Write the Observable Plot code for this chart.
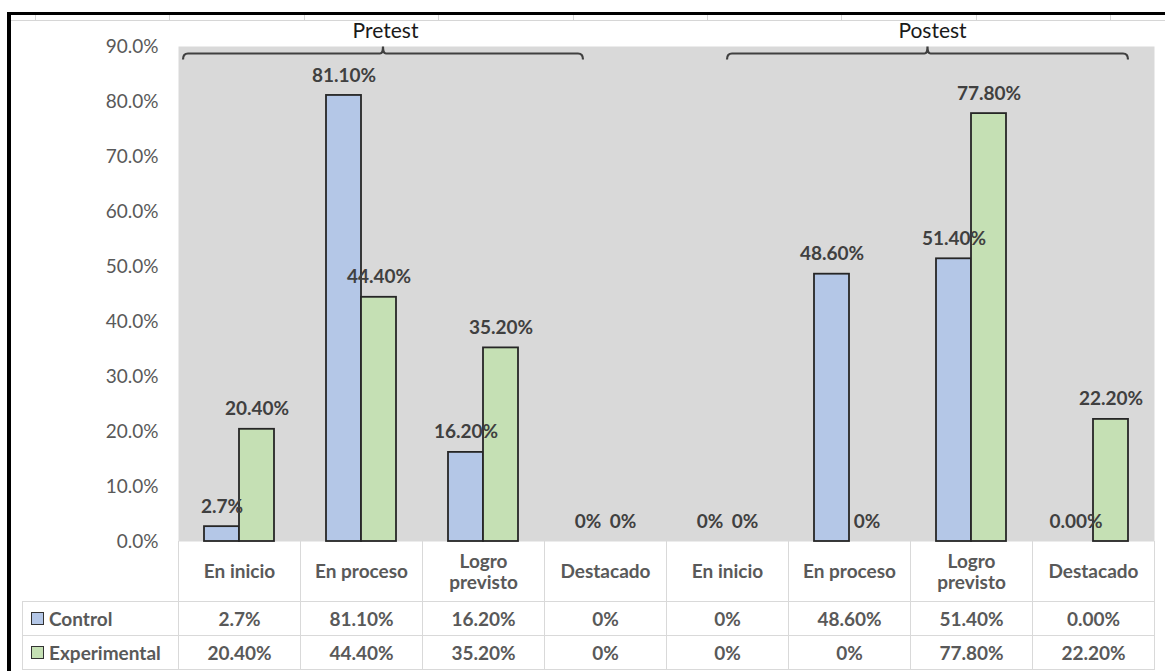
<!DOCTYPE html>
<html><head><meta charset="utf-8">
<script src="https://cdn.jsdelivr.net/npm/d3@7"></script>
<script src="https://cdn.jsdelivr.net/npm/@observablehq/plot@0.6"></script>
<style>
html,body{margin:0;padding:0;background:#fff;}
#wrap{position:relative;width:1165px;height:671px;overflow:hidden;font-family:Lato,"Open Sans",sans-serif;}
#frame{position:absolute;left:7px;top:12px;width:1200px;height:700px;border-left:4px solid #000;border-top:3px solid #000;box-sizing:border-box;}
#sheet{position:absolute;left:11px;top:15px;right:0;height:5px;border-bottom:1px solid #d6d6d6;
 background:repeating-linear-gradient(to right,transparent 0 24px,#d6d6d6 24px 25px,transparent 25px 134.4px);}
.cell{position:absolute;box-sizing:border-box;border:1px solid #d9d9d9;display:flex;align-items:center;justify-content:center;
 font-weight:bold;font-size:19px;color:#595959;background:#fff;}
.cell.head{border-top:none;}
.cell.name{justify-content:flex-start;padding-left:8px;}
.key{display:inline-block;width:11px;height:11px;border:1.5px solid #333;margin-right:5px;}
#chart{position:absolute;left:0;top:0;}
</style></head>
<body><div id="wrap"><div id="frame"></div><div id="sheet"></div></div>
<script>
const groups = ["Pretest", "Postest"];
const categories = ["En inicio", "En proceso", "Logro previsto", "Destacado"];
const seriesNames = ["Control", "Experimental"];
const controlValues = [2.7, 81.1, 16.2, 0, 0, 48.6, 51.4, 0];
const experimentalValues = [20.4, 44.4, 35.2, 0, 0, 0, 77.8, 22.2];
const controlLabels = ["2.7%", "81.10%", "16.20%", "0%", "0%", "48.60%", "51.40%", "0.00%"];
const experimentalLabels = ["20.40%", "44.40%", "35.20%", "0%", "0%", "0%", "77.80%", "22.20%"];
const yTicks = [0, 10, 20, 30, 40, 50, 60, 70, 80, 90];
const seriesColors = ["#b4c7e7", "#c5e0b4"];

const toRows = (values, labels, s) => values.map((v, i) => ({
  group: groups[Math.floor(i / categories.length)],
  category: categories[i % categories.length],
  series: s, value: v, label: labels[i]
}));
const control = toRows(controlValues, controlLabels, seriesNames[0]);
const experimental = toRows(experimentalValues, experimentalLabels, seriesNames[1]);

function bracketRender(index, scales, values, dimensions, context, next) {
  const g = next(index, scales, values, dimensions, context);
  const line = g && g.querySelector("line");
  if (!line) return g;
  const x1 = +line.getAttribute("x1"), x2 = +line.getAttribute("x2"), y = +line.getAttribute("y1");
  const xc = (x1 + x2) / 2;
  const p = document.createElementNS("http://www.w3.org/2000/svg", "path");
  p.setAttribute("d", `M${x1},${y + 6}Q${x1},${y} ${x1 + 5},${y}L${xc - 3},${y}Q${xc},${y} ${xc},${y - 7}Q${xc},${y} ${xc + 3},${y}L${x2 - 5},${y}Q${x2},${y} ${x2},${y + 6}`);
  p.setAttribute("fill", "none");
  line.replaceWith(p);
  return g;
}
const bracket = (group, insetLeft, insetRight, dx) => [
  Plot.ruleY([yTicks[yTicks.length - 1]], {fx: [group], insetLeft, insetRight, dy: 7, stroke: "#404040", strokeWidth: 2.2, render: bracketRender}),
  Plot.text([group], {fx: d => d, text: d => d, frameAnchor: "top", dx, dy: -15, lineAnchor: "middle", fontSize: 21, fill: "#1a1a1a"})
];

const labelOpts = {fx: "group", x: "category", y: "value", text: "label", dy: -20, lineAnchor: "middle", fontWeight: "bold", fontSize: 19, fill: "#404040"};

const chart = Plot.plot({
  width: 1165, height: 600,
  marginLeft: 178, marginRight: 11, marginTop: 46, marginBottom: 59,
  style: {fontFamily: "Lato, 'Open Sans', sans-serif", fontSize: "19px", background: "transparent", overflow: "visible"},
  fx: {domain: groups, padding: 0, axis: null, label: null},
  x: {domain: categories, padding: 0, axis: null, label: null},
  y: {domain: [0, 90], axis: null, label: null},
  marks: [
    Plot.frame({fill: "#d9d9d9", stroke: "none", facet: "super"}),
    Plot.axisY(yTicks, {label: null, tickSize: 0, tickPadding: 20, tickFormat: d => d.toFixed(1) + "%", fill: "#595959", fontSize: 19}),
    Plot.axisX({label: null, tickSize: 0, tickPadding: 30, lineAnchor: "middle", lineHeight: 1.1, fontWeight: "bold", fill: "#595959", fontSize: 19,
      tickFormat: d => d.replace(" previsto", "\nprevisto")}),
    Plot.barY(control, {filter: d => d.value > 0, fx: "group", x: "category", y: "value", fill: seriesColors[0], stroke: "#262626", strokeWidth: 1.8, insetLeft: 26, insetRight: 61}),
    Plot.barY(experimental, {filter: d => d.value > 0, fx: "group", x: "category", y: "value", fill: seriesColors[1], stroke: "#262626", strokeWidth: 1.8, insetLeft: 61, insetRight: 26}),
    Plot.text(control, {...labelOpts, dx: -17.5}),
    Plot.text(experimental, {...labelOpts, dx: 17.5}),
    ...bracket(groups[0], 5, 83, -37),
    ...bracket(groups[1], 61, 26, 22)
  ]
});
chart.id = "chart";

// data table under the chart
const wrap = document.getElementById("wrap");
const left0 = 22, colW = 122, colStart = 178;
const headTop = 541, headH = 60, rowH = 34;
const addCell = (cls, x, y, w, h, html) => {
  const d = document.createElement("div");
  d.className = "cell " + cls;
  Object.assign(d.style, {left: x + "px", top: y + "px", width: (w + 1) + "px", height: (h + 1) + "px"});
  d.innerHTML = html;
  wrap.appendChild(d);
};
const allCats = groups.flatMap(g => categories.map(c => c));
allCats.forEach((c, i) => addCell("head", colStart + i * colW, headTop, colW, headH, ""));
[[seriesNames[0], seriesColors[0], controlLabels], [seriesNames[1], seriesColors[1], experimentalLabels]].forEach(([name, color, labels], r) => {
  const y = headTop + headH + r * rowH;
  addCell("name", left0, y, colStart - left0, rowH, `<span class="key" style="background:${color}"></span>${name}`);
  labels.forEach((t, i) => addCell("", colStart + i * colW, y, colW, rowH, t));
});
wrap.appendChild(chart);
</script>
</body></html>
